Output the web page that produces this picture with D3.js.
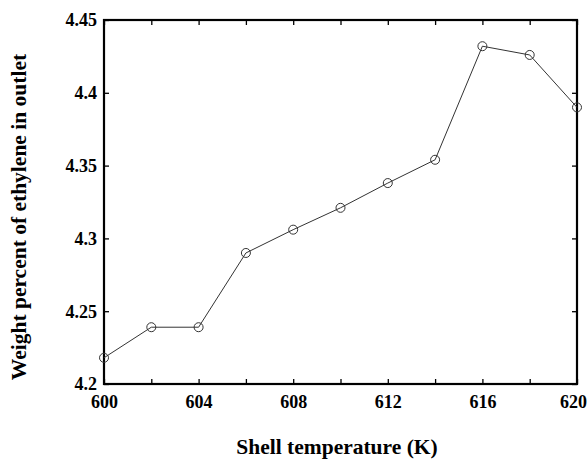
<!DOCTYPE html>
<html><head><meta charset="utf-8">
<script src="https://cdn.jsdelivr.net/npm/d3@7"></script>
<style>body{margin:0;background:#fff;} svg{display:block;} .ser{font-family:"Liberation Serif","Times New Roman",serif;font-weight:bold;}</style>
</head><body>
<script>
const temps = [600, 602, 604, 606, 608, 610, 612, 614, 616, 618, 620];
const ethylene = [4.218, 4.239, 4.239, 4.290, 4.306, 4.321, 4.338, 4.354, 4.432, 4.426, 4.390];
const xTicks = [600, 602, 604, 606, 608, 610, 612, 614, 616, 618, 620];
const xLabels = [600, 604, 608, 612, 616, 620];
const yTicks = [4.2, 4.25, 4.3, 4.35, 4.4, 4.45];
const yTickText = ["4.2", "4.25", "4.3", "4.35", "4.4", "4.45"];

const W = 587, H = 459;
const m = {left: 104, right: 10, top: 20, bottom: 75};
const svg = d3.select("body").append("svg").attr("width", W).attr("height", H);
const x = d3.scaleLinear().domain([600, 620]).range([m.left, W - m.right]);
const y = d3.scaleLinear().domain([4.2, 4.45]).range([H - m.bottom, m.top]);

const g = svg.append("g");
const xb = g.append("g").attr("transform", `translate(0,${y(4.2)})`)
  .call(d3.axisBottom(x).tickValues(xTicks).tickSizeInner(-5).tickSizeOuter(0)
    .tickFormat(d => xLabels.includes(d) ? d : ""));
const xt = g.append("g").attr("transform", `translate(0,${y(4.45)})`)
  .call(d3.axisTop(x).tickValues(xTicks).tickSizeInner(-5).tickSizeOuter(0).tickFormat(""));
const yl = g.append("g").attr("transform", `translate(${x(600)},0)`)
  .call(d3.axisLeft(y).tickValues(yTicks).tickSizeInner(-5).tickSizeOuter(0)
    .tickFormat((d, i) => yTickText[i]));
const yr = g.append("g").attr("transform", `translate(${x(620)},0)`)
  .call(d3.axisRight(y).tickValues(yTicks).tickSizeInner(-5).tickSizeOuter(0).tickFormat(""));
[xb, xt, yl, yr].forEach(a => {
  a.attr("font-family", null).attr("font-size", null);
  a.select(".domain").remove();
  a.selectAll(".tick line").attr("stroke", "#000").attr("stroke-width", 1.3);
  a.selectAll("text").attr("class", "ser").style("font-size", "18px").attr("fill", "#000");
});
xb.selectAll("text").attr("dy", null).attr("y", 24)
  .attr("dx", d => d === 620 ? -4 : 0);
yl.selectAll("text").attr("x", -7).attr("dy", "0.33em");

g.append("rect").attr("x", x(600)).attr("y", y(4.45))
  .attr("width", x(620) - x(600)).attr("height", y(4.2) - y(4.45))
  .attr("fill", "none").attr("stroke", "#000").attr("stroke-width", 2.2);

const line = d3.line().x((d, i) => x(temps[i])).y(d => y(d));
g.append("path").datum(ethylene).attr("d", line)
  .attr("fill", "none").attr("stroke", "#333").attr("stroke-width", 1);
g.selectAll("circle.pt").data(ethylene).join("circle").attr("class", "pt")
  .attr("cx", (d, i) => x(temps[i])).attr("cy", d => y(d)).attr("r", 4.5)
  .attr("fill", "none").attr("stroke", "#333").attr("stroke-width", 1);

svg.append("text").attr("class", "ser").attr("x", 337).attr("y", 454)
  .attr("text-anchor", "middle").style("font-size", "21.5px").text("Shell temperature (K)");
svg.append("text").attr("class", "ser").attr("transform", `translate(26,217) rotate(-90)`)
  .attr("text-anchor", "middle").style("font-size", "21.5px").text("Weight percent of ethylene in outlet");
</script>
</body></html>
